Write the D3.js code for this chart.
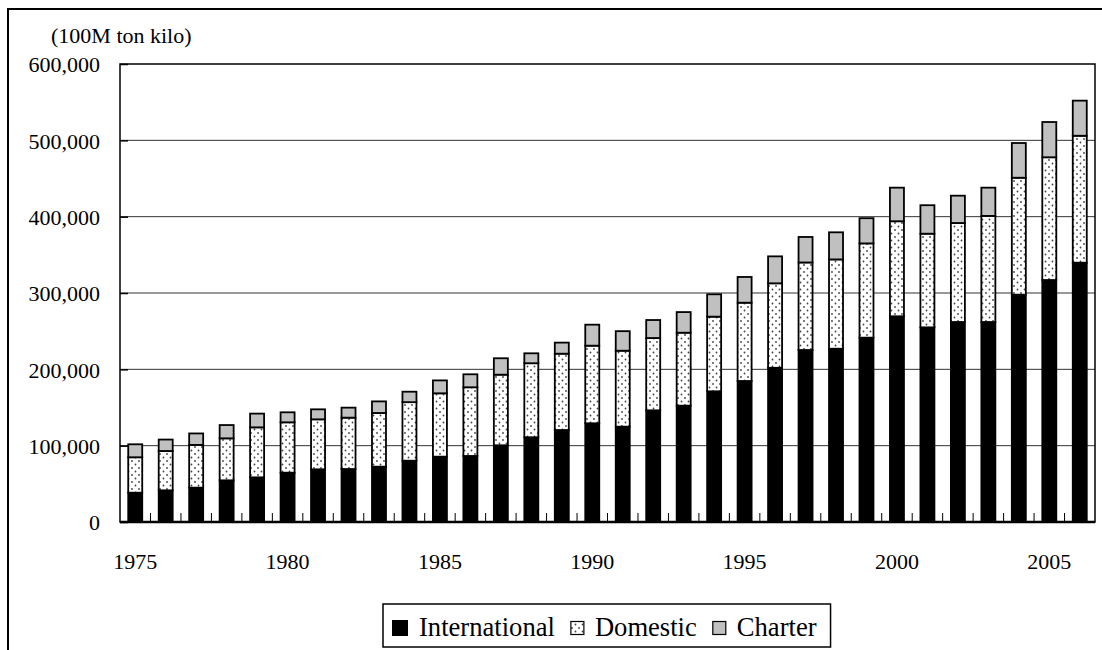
<!DOCTYPE html>
<html>
<head>
<meta charset="utf-8">
<script src="https://cdn.jsdelivr.net/npm/d3@7"></script>
<style>
  body { margin: 0; background: #fff; }
  svg text { font-family: "Liberation Serif", "Times New Roman", Times, serif; fill: #000; }
</style>
</head>
<body>
<div id="chart"></div>
<script>
// datos (100M ton kilo)
const years = [1975, 1976, 1977, 1978, 1979, 1980, 1981, 1982, 1983, 1984, 1985,
  1986, 1987, 1988, 1989, 1990, 1991, 1992, 1993, 1994, 1995, 1996, 1997,
  1998, 1999, 2000, 2001, 2002, 2003, 2004, 2005, 2006];
const international = [38400, 41500, 45000, 54600, 58500, 64600, 69000, 69400, 72500, 80300, 85600,
  86500, 100500, 111000, 120500, 129300, 124900, 146300, 152400, 171200, 184700, 202000, 225300,
  227000, 241500, 269500, 255000, 262000, 262000, 297800, 317000, 339700];
const domestic = [46400, 51500, 56000, 55000, 65500, 66000, 65500, 67300, 70300, 76700, 83000,
  90000, 92500, 97000, 100000, 101700, 99500, 94700, 95600, 97800, 102600, 110700, 114700,
  117000, 123500, 124500, 122700, 129700, 139000, 153200, 160800, 166300];
const charter = [17000, 15000, 15000, 17400, 18000, 13100, 13100, 13100, 15200, 13700, 16900,
  17000, 21500, 13000, 14500, 27500, 25600, 23600, 27000, 29300, 33700, 35300, 33400,
  35500, 33000, 44000, 37300, 35800, 37000, 45500, 46200, 46000];
const seriesNames = ["International", "Domestic", "Charter"];
const yTicks = [0, 100000, 200000, 300000, 400000, 500000, 600000];
const xLabels = [1975, 1980, 1985, 1990, 1995, 2000, 2005];

const W = 1102, H = 650;
const margin = {top: 64, right: 7, bottom: 128, left: 120};
const width = W - margin.left - margin.right;
const height = H - margin.top - margin.bottom;
const barW = 14;
const fuente = "Liberation Serif, Times New Roman, serif";

const svg = d3.select("#chart").append("svg")
  .attr("width", W).attr("height", H)
  .attr("font-family", fuente);

// patrón de puntos para Domestic
const defs = svg.append("defs");
const pat = defs.append("pattern")
  .attr("id", "dots")
  .attr("patternUnits", "userSpaceOnUse")
  .attr("width", 7).attr("height", 7);
pat.append("rect").attr("width", 7).attr("height", 7).attr("fill", "#fff");
pat.append("circle").attr("cx", 1.5).attr("cy", 1.5).attr("r", 0.9).attr("fill", "#444");
pat.append("circle").attr("cx", 5).attr("cy", 5).attr("r", 0.9).attr("fill", "#444");

const fills = {International: "#000", Domestic: "url(#dots)", Charter: "#c0c0c0"};

// marco exterior
svg.append("rect")
  .attr("x", 8).attr("y", 9)
  .attr("width", W + 20).attr("height", H + 20)
  .attr("fill", "none").attr("stroke", "#000").attr("stroke-width", 2);

const g = svg.append("g").attr("transform", `translate(${margin.left},${margin.top})`);

const x = d3.scaleBand().domain(years).range([0, width]).padding(0);
const y = d3.scaleLinear().domain([0, 600000]).range([height, 0]);

// cuadrícula
g.append("g").selectAll("line")
  .data(yTicks.slice(1, -1))
  .join("line")
  .attr("x1", 0).attr("x2", width)
  .attr("y1", d => y(d)).attr("y2", d => y(d))
  .attr("stroke", "#333").attr("stroke-width", 1);

// eje Y
g.append("g")
  .call(d3.axisLeft(y).tickValues(yTicks).tickFormat(d3.format(",")).tickSize(-8).tickPadding(20))
  .call(a => a.attr("font-family", fuente))
  .call(a => a.select(".domain").remove())
  .call(a => a.selectAll("line").attr("stroke", "#000").attr("stroke-width", 1.5))
  .call(a => a.selectAll("text").attr("font-size", 22).attr("dy", "0.35em"));

// barras apiladas
const table = years.map((yr, i) => ({
  year: yr, International: international[i], Domestic: domestic[i], Charter: charter[i]
}));
const stack = d3.stack().keys(seriesNames)(table);

g.append("g").selectAll("g")
  .data(stack)
  .join("g")
  .attr("fill", d => fills[d.key])
  .selectAll("rect")
  .data(d => d)
  .join("rect")
  .attr("x", d => x(d.data.year) + (x.bandwidth() - barW) / 2)
  .attr("y", d => y(d[1]))
  .attr("width", barW)
  .attr("height", d => y(d[0]) - y(d[1]))
  .attr("stroke", "#000")
  .attr("stroke-width", 1.8);

// ticks del eje X entre categorías
g.append("g").selectAll("line")
  .data(years.slice(1))
  .join("line")
  .attr("x1", d => x(d)).attr("x2", d => x(d))
  .attr("y1", height).attr("y2", height - 9)
  .attr("stroke", "#000").attr("stroke-width", 1);

// borde del área de trazado
g.append("rect")
  .attr("width", width).attr("height", height)
  .attr("fill", "none").attr("stroke", "#000").attr("stroke-width", 1.5);
g.append("line")
  .attr("x1", 0).attr("x2", width).attr("y1", height).attr("y2", height)
  .attr("stroke", "#000").attr("stroke-width", 2.5);

// etiquetas X
g.append("g").selectAll("text")
  .data(xLabels)
  .join("text")
  .attr("x", d => x(d) + x.bandwidth() / 2)
  .attr("y", height + 47)
  .attr("text-anchor", "middle")
  .attr("font-size", 22)
  .text(d => d);

// unidad
svg.append("text")
  .attr("x", 51).attr("y", 43)
  .attr("font-size", 22)
  .text("(100M ton kilo)");

// leyenda
const legend = svg.append("g");
const legBox = legend.append("rect")
  .attr("fill", "#fff").attr("stroke", "#000").attr("stroke-width", 1.5);
let lx = 392;
seriesNames.forEach((name, i) => {
  const s = i === 0 ? 16 : 13;
  legend.append("rect")
    .attr("x", lx).attr("y", 628 - s / 2)
    .attr("width", s).attr("height", s)
    .attr("fill", fills[name])
    .attr("stroke", "#000").attr("stroke-width", i === 0 ? 0 : 1.2);
  const t = legend.append("text")
    .attr("x", lx + s + 11).attr("y", 636)
    .attr("font-size", 26.6)
    .text(name);
  lx += s + 11 + t.node().getComputedTextLength() + 16;
});
legBox.attr("x", 383).attr("y", 604).attr("width", lx - 16 + 14 - 383).attr("height", 43);
</script>
</body>
</html>
